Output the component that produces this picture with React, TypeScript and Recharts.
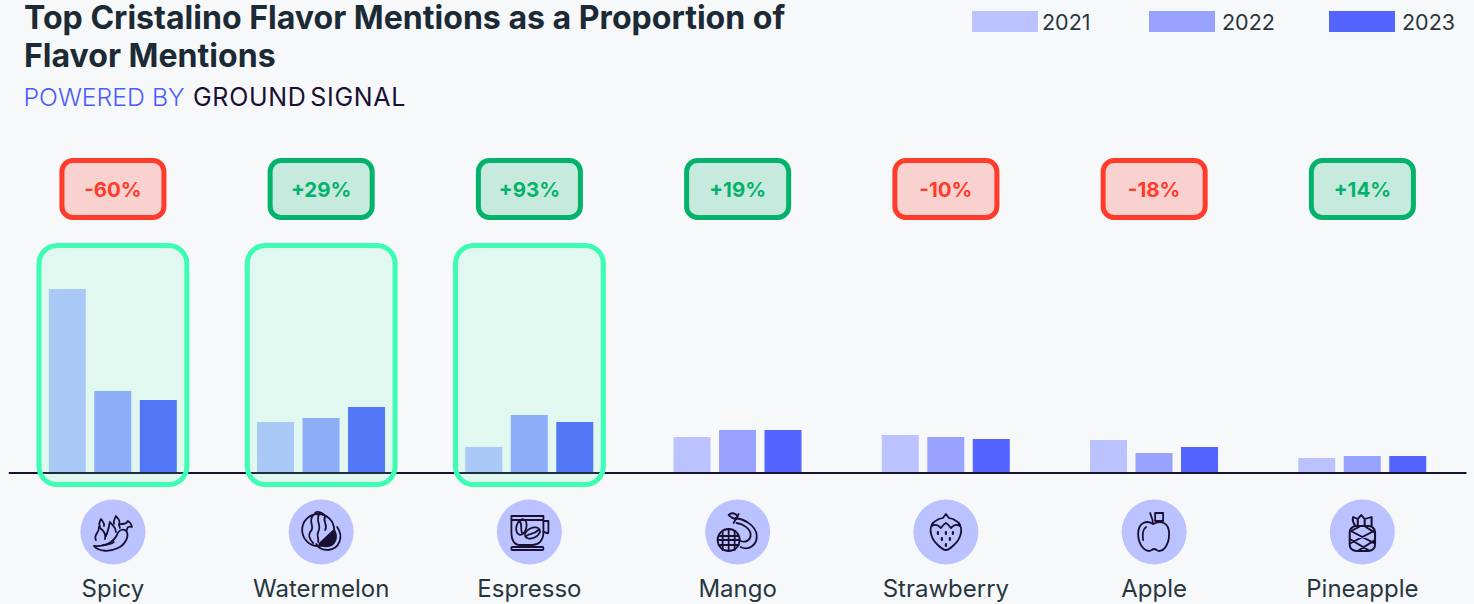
import React from 'react';
import { ComposedChart, Bar, XAxis, YAxis, ReferenceArea, Legend } from 'recharts';

const categories = ['Spicy', 'Watermelon', 'Espresso', 'Mango', 'Strawberry', 'Apple', 'Pineapple'];
const values2021 = [8.0, 2.22, 1.13, 1.57, 1.65, 1.43, 0.65];
const values2022 = [3.57, 2.39, 2.52, 1.87, 1.57, 0.87, 0.74];
const values2023 = [3.17, 2.87, 2.22, 1.87, 1.48, 1.13, 0.74];
const changes = ['-60%', '+29%', '+93%', '+19%', '-10%', '-18%', '+14%'];
const highlighted = ['Spicy', 'Watermelon', 'Espresso'];
const titleLines = ['Top Cristalino Flavor Mentions as a Proportion of', 'Flavor Mentions'];

const data = categories.map((c, i) => ({ name: c, slot: i, y2021: values2021[i], y2022: values2022[i], y2023: values2023[i] }));

const INK = '#1a1033';
const FONT = 'Inter, sans-serif';

const icons: Record<string, React.ReactNode> = {
  Spicy: (
    <g>
      <path d="M-19 14C-9 15 0 11 4 3C6-3 12-4 14 0C16 5 12 13 5 16C-3 20-14 20-19 14Z" />
      <path d="M7-4C6-8 5-8 9-8C13-8 14-9 15-11C17-10 19-7 19-5C16-6 14-5 14-2" />
      <path d="M-17 8C-20 3-13 0-14-5C-10-2-6 2-8 7" />
      <path d="M-13-5C-15-9-13-10-12-13C-10-10-8-9-9-6" />
      <path d="M-7 4C-5 0-4-5-3-10C0-6 3-5 3 0" />
      <path d="M1-8C0-12 2-13 3-16C5-13 8-12 6-7" />
      <path d="M-10 13C-6 13-2 12 1 10" />
    </g>
  ),
  Watermelon: (
    <g>
      <circle cx="-3" cy="-2" r="16" />
      <path d="M-8-17C-14-9-5-6-11 0C-14 5-10 9-8 11" />
      <path d="M-2-18C-6-10 1-7-3 0C-5 4-2 6-3 10" />
      <path d="M4-16C1-10 7-8 4-2" />
      <path d="M-6-19C-4-21 0-20 3-17" />
      <path d="M13-2C17 5 14 12 8 14C4 15 1 14-2 12Z" fill={INK} />
      <path d="M16-5C23 5 18 17 7 18C2 18-3 16-5 12" />
    </g>
  ),
  Espresso: (
    <g>
      <path d="M-18-16H14V0C14 9 9 13 3 13H-9C-15 13-18 9-18 0Z" />
      <path d="M14-11H19V0C19 3 17 0 14 0" />
      <path d="M-17-12H13" />
      <ellipse cx="-8" cy="-5" rx="5" ry="8" transform="rotate(15 -8 -5)" />
      <path d="M-10-11C-6-7-10-3-7 2" />
      <ellipse cx="3" cy="1" rx="8" ry="5" transform="rotate(-25 3 1)" />
      <path d="M-3 4C1 1 4 3 9-2" />
      <rect x="-18" y="15" width="32" height="3" rx="1" />
    </g>
  ),
  Mango: (
    <g>
      <circle cx="-9" cy="8" r="11" />
      <path d="M-19 4H1M-20 8H2M-19 13H1M-15-1V18M-9-3V19M-3-1V18" />
      <path d="M-4-9L1-18" />
      <path d="M-1-13C-4-13-7-15-9-17C-6-20-3-19 0-16" />
      <path d="M-2-14C6-13 18-7 19 3C20 13 11 19 3 15" />
      <path d="M-1-9C6-8 13-3 13 3C13 8 8 11 3 9" />
    </g>
  ),
  Strawberry: (
    <g>
      <path d="M-13-9C-18-2-14 8-8 13C-4 17-1 18 0 18C2 18 5 16 8 13C14 8 18-2 13-9" />
      <path d="M-14-6C-14-10-10-11-7-13L-3-14L0-18L3-14L7-13C10-11 14-10 14-6C10-8 8-7 5-4C3-7 2-8 0-9C-2-8-3-7-5-4C-8-7-10-8-14-6Z" />
      <path d="M-8 0V2M0 0V2M7 0V2M-4 6V8M4 6V8M0 12V14" strokeWidth="2.2" />
    </g>
  ),
  Apple: (
    <g>
      <path d="M-1-8C-7-12-16-10-16 2C-16 12-10 19-5 19C-3 19-2 17 0 17C2 17 3 19 5 19C10 19 15 12 15 2C15-10 6-12-1-8Z" />
      <path d="M-1-8C-1-12-3-16-4-19" />
      <path d="M1-11V-19H9V-11Z" />
      <path d="M-11 8C-12 2-11-3-8-5" />
    </g>
  ),
  Pineapple: (
    <g transform="scale(1.15 1)">
      <rect x="-11" y="-6" width="22" height="25" rx="6" />
      <path d="M-10-1L10 11M-11 7L5 18M10-1L-10 11M11 8L-4 19M3-5L10 0M-3-5L-10-1" />
      <path d="M-6-6C-8-9-9-12-8-15L-4-13L-1-17L2-13L8-15V-6" />
      <path d="M-4-6V-12M2-6V-12" />
    </g>
  ),
};

const CategoryTick = (props: any) => {
  const { x, y, payload } = props;
  return (
    <g>
      <circle cx={x} cy={y + 51} r={32.5} fill="#bac2ff" />
      <g transform={`translate(${x},${y + 51})`} fill="none" stroke={INK} strokeWidth={1.8} strokeLinejoin="round" strokeLinecap="round">
        {icons[payload.value]}
      </g>
      <text x={x} y={y + 116} textAnchor="middle" fontFamily={FONT} fontSize={24} fill="#27363f">
        {payload.value}
      </text>
    </g>
  );
};

const BoxShape = (props: any) => {
  const { x, y, width, height } = props;
  return <rect x={x} y={y} width={width} height={height} rx={18} fill="#3ffdb5" fillOpacity={0.12} stroke="#3dfdb5" strokeWidth={5} />;
};

const BadgeShape = (props: any) => {
  const { x, y, width, height, label } = props;
  const up = label.startsWith('+');
  return (
    <g>
      <rect x={x} y={y} width={width} height={height} rx={11} fill={up ? '#c6ebde' : '#f9d2d0'} stroke={up ? '#05b26b' : '#ff3b2b'} strokeWidth={5} />
      <text x={x + width / 2} y={y + height / 2 + 8} textAnchor="middle" fontFamily={FONT} fontWeight={700} fontSize={20.5} fill={up ? '#05b26b' : '#ff3b2b'}>
        {label}
      </text>
    </g>
  );
};

const legendItemWidths = [177, 180, 145];
const legendLabelGaps = [4, 7, 7];

const LegendContent = (props: any) => (
  <div style={{ position: 'absolute', left: 972, top: 11, display: 'flex', fontFamily: FONT, fontSize: 21.5, color: '#27363f', whiteSpace: 'nowrap' }}>
    {props.payload.map((p: any, i: number) => (
      <div key={p.value} style={{ display: 'flex', alignItems: 'center', height: 21, width: legendItemWidths[i] }}>
        <span style={{ display: 'inline-block', width: 66, height: 21, background: p.color, marginRight: legendLabelGaps[i] }} />
        <span style={{ lineHeight: '24px' }}>{p.value}</span>
      </div>
    ))}
  </div>
);

export default function App() {
  return (
    <div style={{ position: 'absolute', left: 0, top: 0, width: 1474, height: 604, background: '#f7f8fa', overflow: 'hidden' }}>
      {titleLines.map((line, i) => (
        <div key={line} style={{ position: 'absolute', left: 24, top: i === 0 ? 1 : 39, fontFamily: FONT, fontWeight: 700, fontSize: 32.1, lineHeight: i === 0 ? '33px' : '34px', color: '#1b2a35', whiteSpace: 'nowrap' }}>
          {line}
        </div>
      ))}
      <div style={{ position: 'absolute', left: 23.5, top: 83, fontFamily: FONT, fontWeight: 300, fontSize: 24.8, lineHeight: '28px', color: '#4a5cff', whiteSpace: 'nowrap' }}>
        POWERED BY
      </div>
      <div style={{ position: 'absolute', left: 193, top: 83, fontFamily: FONT, fontWeight: 400, fontSize: 25, lineHeight: '28px', color: INK, whiteSpace: 'nowrap', wordSpacing: -4, letterSpacing: 0.7 }}>
        GROUND SIGNAL
      </div>
      <div style={{ position: 'absolute', left: 0, top: 0 }}>
        <ComposedChart width={1474} height={604} data={data} margin={{ top: 13, right: 7.5, bottom: 0, left: 8.8 }} barSize={37} barGap={8.5}>
          <XAxis
            dataKey="name"
            height={131}
            interval={0}
            tickLine={false}
            axisLine={{ stroke: INK, strokeWidth: 2 }}
            tick={<CategoryTick />}
          />
          <XAxis xAxisId="pos" dataKey="slot" type="number" domain={[0, 7]} hide allowDataOverflow />
          <YAxis domain={[0, 20]} hide />
          <Legend layout="horizontal" verticalAlign="middle" align="center" content={<LegendContent />} wrapperStyle={{ left: 0, top: 0, width: 1474, height: 40 }} />
          <Bar dataKey="y2021" name="2021" fill="#bac2ff" isAnimationActive={false} />
          <Bar dataKey="y2022" name="2022" fill="#98a3ff" isAnimationActive={false} />
          <Bar dataKey="y2023" name="2023" fill="#5465ff" isAnimationActive={false} />
          {highlighted.map((c) => {
            const i = categories.indexOf(c);
            return (
              <ReferenceArea key={c} xAxisId="pos" x1={i + 0.145} x2={i + 0.855} y1={-0.5} y2={9.89} ifOverflow="visible" zIndex={1000} shape={<BoxShape />} />
            );
          })}
          {changes.map((label, i) => (
            <ReferenceArea key={label} xAxisId="pos" x1={i + 0.255} x2={i + 0.745} y1={11.11} y2={13.59} ifOverflow="visible" shape={<BadgeShape label={label} />} />
          ))}
        </ComposedChart>
      </div>
    </div>
  );
}
